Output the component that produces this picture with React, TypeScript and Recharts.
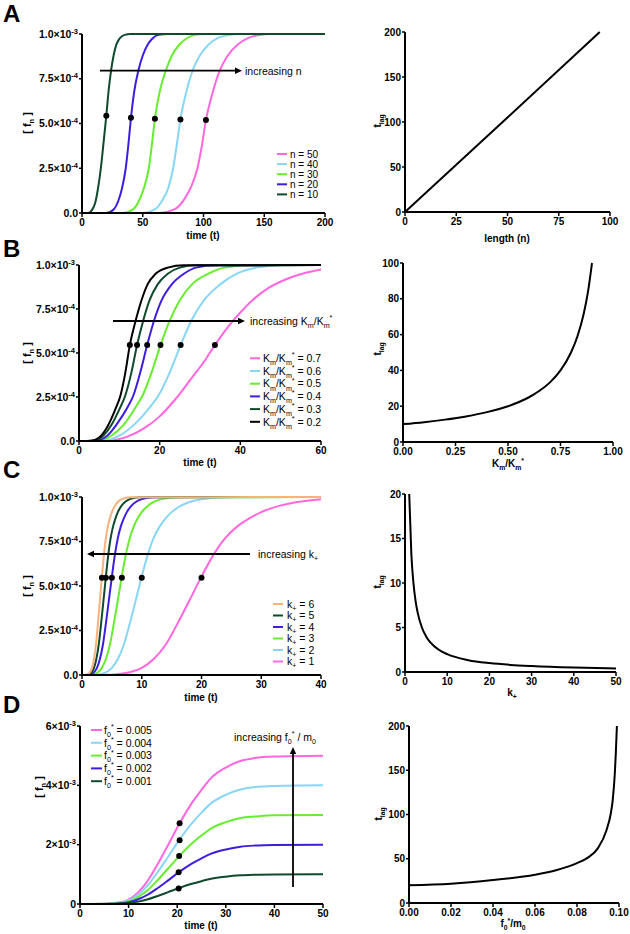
import React from "react";
import { ComposedChart, Line, Scatter, XAxis, YAxis } from "recharts";

const FONT = '"Liberation Sans", Arial, Helvetica, sans-serif';

const PINK = "#ff66e0";
const LBLUE = "#88d6f6";
const GREEN = "#66ee2e";
const BLUE = "#3b1ee0";
const DGREEN = "#0f4a2c";
const BLACK = "#000000";
const ORANGE = "#f8b27a";

// ---- Panel A : [f_n] (x1e-4) vs time, for several lengths n ----
const aNames = ["n = 50", "n = 40", "n = 30", "n = 20", "n = 10"];
const aColors = [PINK, LBLUE, GREEN, BLUE, DGREEN];
const aN50 = [[0, 0], [64, 0], [76, 0.2], [84, 0.75], [90, 1.5], [95, 2.5], [98.5, 3.7], [102, 5.19], [107, 6.6], [113, 7.9], [120, 8.8], [128, 9.4], [137, 9.78], [146, 9.95], [155, 10], [200, 10]];
const aN40 = [[0, 0], [50, 0], [60, 0.2], [66, 0.7], [71, 1.4], [75, 2.5], [78, 3.8], [81, 5.22], [86, 6.8], [91, 7.96], [97, 8.8], [104, 9.4], [112, 9.78], [121, 9.95], [130, 10], [200, 10]];
const aN30 = [[0, 0], [34, 0], [42, 0.2], [47, 0.7], [51, 1.4], [55, 2.5], [57.5, 3.8], [60, 5.27], [64, 6.8], [69, 7.96], [74, 8.8], [80, 9.4], [86, 9.75], [93, 9.95], [100, 10], [200, 10]];
const aN20 = [[0, 0], [20, 0], [26, 0.2], [30, 0.7], [33, 1.4], [36, 2.5], [38.3, 3.9], [40.3, 5.32], [43, 6.8], [46.4, 7.96], [50, 8.8], [54, 9.4], [58, 9.75], [63, 9.95], [70, 10], [200, 10]];
const aN10 = [[0, 0], [5, 0], [8, 0.15], [11, 0.6], [13, 1.3], [15.5, 2.5], [18, 4.1], [20, 5.43], [22, 6.9], [24, 8.0], [26, 8.8], [28, 9.35], [31, 9.75], [35, 9.95], [40, 10], [200, 10]];
const aDotT = [20, 40.3, 60, 81, 102];
const aDotV = [5.43, 5.32, 5.27, 5.22, 5.19];
const aLagN = [0, 50, 95];
const aLagT = [0, 105, 200];

// ---- Panel B : varying Km/Km* ----
const bValues = ["0.7", "0.6", "0.5", "0.4", "0.3", "0.2"];
const bColors = [PINK, LBLUE, GREEN, BLUE, DGREEN, BLACK];
const bK07 = [[0, 0], [7, 0.02], [12, 0.25], [16, 0.7], [20, 1.4], [24, 2.4], [28, 3.6], [31, 4.5], [33.7, 5.45], [37, 6.5], [40, 7.3], [43, 8.0], [47, 8.7], [52, 9.25], [56, 9.55], [60, 9.75]];
const bK06 = [[0, 0], [6, 0.02], [10, 0.3], [14, 1.0], [17.5, 1.9], [20, 2.7], [22.5, 3.9], [25.2, 5.45], [28, 6.9], [31, 8.0], [35, 8.9], [39, 9.5], [44, 9.85], [50, 9.98], [60, 10]];
const bK05 = [[0, 0], [5, 0.02], [8, 0.3], [11, 0.9], [14, 1.9], [16, 2.7], [18, 3.9], [20.2, 5.45], [22.6, 6.9], [25, 8.0], [28, 8.9], [32, 9.5], [36, 9.85], [42, 9.98], [60, 10]];
const bK04 = [[0, 0], [4, 0.02], [7, 0.3], [9.5, 1.0], [12, 1.9], [13.5, 2.6], [15.2, 3.9], [16.9, 5.45], [18.7, 6.9], [20.5, 8.0], [23, 8.9], [26, 9.5], [29, 9.85], [34, 9.98], [60, 10]];
const bK03 = [[0, 0], [3.5, 0.02], [6, 0.3], [8, 0.9], [10, 1.8], [11.5, 2.6], [13, 3.9], [14.4, 5.45], [16, 6.9], [17.5, 8.0], [19.5, 8.9], [22, 9.5], [25, 9.85], [29, 9.98], [60, 10]];
const bK02 = [[0, 0], [3, 0.02], [5, 0.2], [7, 0.8], [9, 1.8], [10.3, 2.6], [11.5, 3.9], [12.6, 5.45], [14, 6.8], [15.5, 8.0], [17, 8.9], [19, 9.5], [22, 9.85], [26, 9.98], [60, 10]];
const bDotT = [12.6, 14.4, 16.9, 20.2, 25.2, 33.7];
const bDotV = [5.45, 5.45, 5.45, 5.45, 5.45, 5.45];
const bRatio = [0, 0.1, 0.2, 0.3, 0.4, 0.5, 0.6, 0.65, 0.7, 0.75, 0.8, 0.83, 0.86, 0.88, 0.9];
const bLag = [10, 11.1, 12.5, 14.3, 16.7, 20, 25, 28.6, 33.3, 40, 50, 58.8, 71.4, 83.3, 100];

// ---- Panel C : varying k+ ----
const cValues = ["6", "5", "4", "3", "2", "1"];
const cColors = [ORANGE, DGREEN, BLUE, GREEN, LBLUE, PINK];
const cK6 = [[0, 0], [0.83, 0.02], [1.33, 0.15], [1.67, 0.4], [2, 0.9], [2.33, 1.7], [2.67, 2.9], [3, 4.2], [3.32, 5.47], [3.67, 6.75], [4, 7.7], [4.33, 8.35], [4.67, 8.8], [5, 9.15], [5.5, 9.5], [6, 9.72], [6.67, 9.88], [8, 9.98], [40, 10]];
const cK5 = [[0, 0], [1, 0.02], [1.6, 0.15], [2, 0.4], [2.4, 0.9], [2.8, 1.7], [3.2, 2.9], [3.6, 4.2], [3.98, 5.47], [4.4, 6.75], [4.8, 7.7], [5.2, 8.35], [5.6, 8.8], [6, 9.15], [6.6, 9.5], [7.2, 9.72], [8, 9.88], [9.6, 9.98], [40, 10]];
const cK4 = [[0, 0], [1.25, 0.02], [2, 0.15], [2.5, 0.4], [3, 0.9], [3.5, 1.7], [4, 2.9], [4.5, 4.2], [4.98, 5.47], [5.5, 6.75], [6, 7.7], [6.5, 8.35], [7, 8.8], [7.5, 9.15], [8.25, 9.5], [9, 9.72], [10, 9.88], [12, 9.98], [40, 10]];
const cK3 = [[0, 0], [1.67, 0.02], [2.67, 0.15], [3.33, 0.4], [4, 0.9], [4.67, 1.7], [5.33, 2.9], [6, 4.2], [6.63, 5.47], [7.33, 6.75], [8, 7.7], [8.67, 8.35], [9.33, 8.8], [10, 9.15], [11, 9.5], [12, 9.72], [13.3, 9.88], [16, 9.98], [40, 10]];
const cK2 = [[0, 0], [2.5, 0.02], [4, 0.15], [5, 0.4], [6, 0.9], [7, 1.7], [8, 2.9], [9, 4.2], [9.95, 5.47], [11, 6.75], [12, 7.7], [13, 8.35], [14, 8.8], [15, 9.15], [16.5, 9.5], [18, 9.72], [20, 9.88], [24, 9.98], [40, 10]];
const cK1 = [[0, 0], [5, 0.02], [8, 0.15], [10, 0.4], [12, 0.9], [14, 1.7], [16, 2.9], [18, 4.2], [19.9, 5.47], [22, 6.75], [24, 7.7], [26, 8.35], [28, 8.8], [30, 9.15], [33, 9.5], [36, 9.72], [40, 9.88]];
const cDotT = [3.33, 4, 5, 6.67, 10, 20];
const cDotV = [5.47, 5.47, 5.47, 5.47, 5.47, 5.47];
const cK = [1, 1.5, 2, 2.5, 3, 4, 5, 6, 8, 10, 15, 20, 25, 30, 40, 50];
const cLag = [20, 13.3, 10, 8, 6.67, 5, 4, 3.33, 2.5, 2, 1.33, 1, 0.8, 0.67, 0.5, 0.4];

// ---- Panel D : varying f0* (x1e-3) ----
const dValues = ["0.005", "0.004", "0.003", "0.002", "0.001"];
const dColors = [PINK, LBLUE, GREEN, BLUE, DGREEN];
const dTime = [0, 5, 8, 10, 12, 14, 16, 18, 20.5, 23, 25, 27, 30, 33, 36, 40, 50];
const dF005 = [0, 0.01, 0.05, 0.15, 0.4, 0.8, 1.35, 1.95, 2.72, 3.4, 3.85, 4.25, 4.6, 4.82, 4.92, 4.97, 5];
const dF004 = [0, 0.008, 0.04, 0.12, 0.32, 0.64, 1.08, 1.56, 2.18, 2.72, 3.08, 3.4, 3.68, 3.86, 3.94, 3.98, 4];
const dF003 = [0, 0.006, 0.03, 0.09, 0.24, 0.48, 0.81, 1.17, 1.63, 2.04, 2.31, 2.55, 2.76, 2.9, 2.95, 2.99, 3];
const dF002 = [0, 0.004, 0.02, 0.06, 0.16, 0.32, 0.54, 0.78, 1.09, 1.36, 1.54, 1.7, 1.84, 1.93, 1.97, 1.99, 2];
const dF001 = [0, 0.002, 0.01, 0.03, 0.08, 0.16, 0.27, 0.39, 0.545, 0.68, 0.77, 0.85, 0.92, 0.965, 0.985, 0.995, 1];
const dDotT = [20.5, 20.5, 20.4, 20.3, 20.3];
const dDotV = [2.72, 2.15, 1.62, 1.07, 0.52];
const dRatio = [0, 0.02, 0.04, 0.06, 0.07, 0.08, 0.085, 0.09, 0.094, 0.096, 0.097, 0.098, 0.0985, 0.099];
const dLag = [20, 21.8, 26, 32, 37, 45, 51, 62, 82, 100, 116, 146, 170, 200];

// tick labels of the concentration axes
const yTicksABC = [0, 2.5, 5, 7.5, 10];
const yMantABC = ["0.0", "2.5", "5.0", "7.5", "1.0"];
const yExpABC = ["", "-4", "-4", "-4", "-3"];
const yTicksD = [0, 2, 4, 6];
const yMantD = ["0", "2", "4", "6"];
const yExpD = ["", "-3", "-3", "-3"];

const pairs = (p: number[][]) => p.map(([x, y]) => ({ x, y }));
const zip = (xs: number[], ys: number[]) => xs.map((x, i) => ({ x, y: ys[i] }));

const AX = { stroke: "#000", strokeWidth: 2 };
const TL = { stroke: "#000", strokeWidth: 1.5 };
const TICK = { fill: "#000", fontSize: 10, fontWeight: 700, fontFamily: FONT };

function SciTick(props: any) {
  const { x, y, payload, ticks, mant, exp } = props;
  const i = ticks.indexOf(payload.value);
  return (
    <text x={x} y={y} dy={3.7} textAnchor="end" fontFamily={FONT} fontSize={10.5} fontWeight="bold" fill="#000">
      {mant[i]}
      {exp[i] ? "×10" : ""}
      {exp[i] ? <tspan dy={-4} fontSize={7.5}>{exp[i]}</tspan> : null}
    </text>
  );
}

type Series = { data: { x: number; y: number }[]; color: string };

const YW = 70;
const MT = 10;
const MR = 10;
const XH = 30;

function Plot(props: {
  x0: number; y0: number; x1: number; y1: number;
  xDomain: number[]; xTicks: number[]; xFmt?: (v: number) => string;
  yDomain: number[]; yTicks: number[]; sci?: { mant: string[]; exp: string[] };
  lines: Series[]; dots?: { x: number; y: number }[];
}) {
  const { x0, y0, x1, y1, xDomain, xTicks, xFmt, yDomain, yTicks, sci, lines, dots } = props;
  return (
    <div style={{ position: "absolute", left: x0 - YW, top: y0 - MT }}>
      <ComposedChart width={YW + (x1 - x0) + MR} height={MT + (y1 - y0) + XH} margin={{ top: MT, right: MR, bottom: 0, left: 0 }}>
        <XAxis type="number" dataKey="x" domain={xDomain} ticks={xTicks} interval={0} tickFormatter={xFmt}
          height={XH} axisLine={AX} tickLine={TL} tickSize={4} tickMargin={2} tick={TICK} />
        <YAxis type="number" dataKey="y" domain={yDomain} ticks={yTicks} interval={0} width={YW}
          axisLine={AX} tickLine={TL} tickSize={3} tickMargin={1}
          tick={sci ? (p: any) => <SciTick {...p} ticks={yTicks} mant={sci.mant} exp={sci.exp} /> : TICK} />
        {lines.map((s, i) => (
          <Line key={i} data={s.data} dataKey="y" type="monotone" stroke={s.color} strokeWidth={2}
            dot={false} activeDot={false} isAnimationActive={false} />
        ))}
        {dots ? (
          <Scatter data={dots} dataKey="y" fill="#000" isAnimationActive={false}
            shape={(p: any) => <circle cx={p.cx} cy={p.cy} r={3} fill="#000" />} />
        ) : null}
      </ComposedChart>
    </div>
  );
}

type Seg = [string, string?];

function Rich({ x, y, segs, size = 11, bold = false, anchor = "start", rotate = false }: {
  x: number; y: number; segs: Seg[]; size?: number; bold?: boolean; anchor?: string; rotate?: boolean;
}) {
  let cur = 0;
  const spans = segs.map(([t, k], i) => {
    const target = k === "sub" ? size * 0.3 : k === "sup" ? -size * 0.45 : 0;
    const dy = target - cur;
    cur = target;
    return (
      <tspan key={i} dy={dy} fontSize={k ? size * 0.68 : size}>{t}</tspan>
    );
  });
  return (
    <text x={x} y={y} textAnchor={anchor as any} fontFamily={FONT} fontWeight={bold ? "bold" : "normal"}
      fontSize={size} fill="#000" style={{ whiteSpace: "pre" }}
      transform={rotate ? `rotate(-90 ${x} ${y})` : undefined}>
      {spans}
    </text>
  );
}

function LegendBlock({ y, step, lx0, lx1, tx, colors, labels, size = 10.5 }: {
  y: number; step: number; lx0: number; lx1: number; tx: number; colors: string[]; labels: Seg[][]; size?: number;
}) {
  return (
    <g>
      {labels.map((segs, i) => (
        <g key={i}>
          <line x1={lx0} x2={lx1} y1={y + i * step} y2={y + i * step} stroke={colors[i]} strokeWidth={2} />
          <Rich x={tx} y={y + i * step + 3.7} segs={segs} size={size} />
        </g>
      ))}
    </g>
  );
}

const kmSegs: Seg[] = [["K"], ["m", "sub"], ["/K"], ["m", "sub"], ["*", "sup"]];
const fnSegs: Seg[] = [["[ f"], ["n", "sub"], [" ]"]];
const lagSegs: Seg[] = [["t"], ["lag", "sub"]];

export default function App() {
  return (
    <div style={{ position: "absolute", left: 0, top: 0, width: 630, height: 934, background: "#fff", overflow: "hidden" }}>
      {/* A */}
      <Plot x0={82} y0={34} x1={325} y1={213} xDomain={[0, 200]} xTicks={[0, 50, 100, 150, 200]}
        yDomain={[0, 10]} yTicks={yTicksABC} sci={{ mant: yMantABC, exp: yExpABC }}
        lines={[aN50, aN40, aN30, aN20, aN10].map((d, i) => ({ data: pairs(d), color: aColors[i] }))}
        dots={zip(aDotT, aDotV)} />
      <Plot x0={405} y0={32} x1={610} y1={212} xDomain={[0, 100]} xTicks={[0, 25, 50, 75, 100]}
        yDomain={[0, 200]} yTicks={[0, 50, 100, 150, 200]}
        lines={[{ data: zip(aLagN, aLagT), color: BLACK }]} />
      {/* B */}
      <Plot x0={79} y0={265} x1={321} y1={441} xDomain={[0, 60]} xTicks={[0, 20, 40, 60]}
        yDomain={[0, 10]} yTicks={yTicksABC} sci={{ mant: yMantABC, exp: yExpABC }}
        lines={[bK07, bK06, bK05, bK04, bK03, bK02].map((d, i) => ({ data: pairs(d), color: bColors[i] }))}
        dots={zip(bDotT, bDotV)} />
      <Plot x0={403} y0={263} x1={613} y1={442} xDomain={[0, 1]} xTicks={[0, 0.25, 0.5, 0.75, 1]}
        xFmt={(v) => v.toFixed(2)} yDomain={[0, 100]} yTicks={[0, 20, 40, 60, 80, 100]}
        lines={[{ data: zip(bRatio, bLag), color: BLACK }]} />
      {/* C */}
      <Plot x0={82} y0={497} x1={321} y1={675} xDomain={[0, 40]} xTicks={[0, 10, 20, 30, 40]}
        yDomain={[0, 10]} yTicks={yTicksABC} sci={{ mant: yMantABC, exp: yExpABC }}
        lines={[cK1, cK2, cK3, cK4, cK5, cK6].map((d, i) => ({ data: pairs(d), color: cColors[5 - i] }))}
        dots={zip(cDotT, cDotV)} />
      <Plot x0={405} y0={494} x1={616} y1={672} xDomain={[0, 50]} xTicks={[0, 10, 20, 30, 40, 50]}
        yDomain={[0, 20]} yTicks={[0, 5, 10, 15, 20]}
        lines={[{ data: zip(cK, cLag), color: BLACK }]} />
      {/* D */}
      <Plot x0={80} y0={726} x1={323} y1={904} xDomain={[0, 50]} xTicks={[0, 10, 20, 30, 40, 50]}
        yDomain={[0, 6]} yTicks={yTicksD} sci={{ mant: yMantD, exp: yExpD }}
        lines={[dF005, dF004, dF003, dF002, dF001].map((v, i) => ({ data: zip(dTime, v), color: dColors[i] }))}
        dots={zip(dDotT, dDotV)} />
      <Plot x0={409} y0={726} x1={619} y1={903} xDomain={[0, 0.1]} xTicks={[0, 0.02, 0.04, 0.06, 0.08, 0.1]}
        xFmt={(v) => v.toFixed(2)} yDomain={[0, 200]} yTicks={[0, 50, 100, 150, 200]}
        lines={[{ data: zip(dRatio, dLag), color: BLACK }]} />

      <svg width={630} height={934} style={{ position: "absolute", left: 0, top: 0, pointerEvents: "none" }}>
        {/* panel letters */}
        {["A", "B", "C", "D"].map((l, i) => (
          <text key={l} x={3} y={[22, 257, 478, 713][i]} fontFamily={FONT} fontWeight="bold" fontSize={24} fill="#000">{l}</text>
        ))}

        {/* axis titles */}
        <Rich x={31} y={123} segs={fnSegs} bold rotate anchor="middle" size={11} />
        <Rich x={31} y={353} segs={fnSegs} bold rotate anchor="middle" size={11} />
        <Rich x={31} y={586} segs={fnSegs} bold rotate anchor="middle" size={11} />
        <Rich x={43} y={787} segs={fnSegs} bold rotate anchor="middle" size={11} />
        <Rich x={381} y={121} segs={lagSegs} bold rotate anchor="middle" size={10} />
        <Rich x={381} y={349} segs={lagSegs} bold rotate anchor="middle" size={10} />
        <Rich x={381} y={582} segs={lagSegs} bold rotate anchor="middle" size={10} />
        <Rich x={382} y={814} segs={lagSegs} bold rotate anchor="middle" size={10} />

        <Rich x={203} y={239} segs={[["time (t)"]]} bold anchor="middle" size={10} />
        <Rich x={507} y={242} segs={[["length (n)"]]} bold anchor="middle" size={10} />
        <Rich x={200} y={466} segs={[["time (t)"]]} bold anchor="middle" size={10} />
        <Rich x={508} y={467} segs={kmSegs} bold anchor="middle" size={10} />
        <Rich x={201} y={701} segs={[["time (t)"]]} bold anchor="middle" size={10} />
        <Rich x={512} y={696} segs={[["k"], ["+", "sub"]]} bold anchor="middle" size={10} />
        <Rich x={201} y={929} segs={[["time (t)"]]} bold anchor="middle" size={10} />
        <Rich x={513} y={927} segs={[["f"], ["0", "sub"], ["*", "sup"], ["/m"], ["0", "sub"]]} bold anchor="middle" size={10} />

        {/* legends */}
        <LegendBlock y={154} step={10.1} lx0={277} lx1={287} tx={290} colors={aColors} size={10}
          labels={aNames.map((n) => [[n]] as Seg[])} />
        <LegendBlock y={358.3} step={12.7} lx0={250} lx1={260} tx={263} colors={bColors}
          labels={bValues.map((v) => [...kmSegs, [" = " + v]] as Seg[])} />
        <LegendBlock y={604} step={11.5} lx0={273} lx1={283} tx={287} colors={cColors}
          labels={cValues.map((v) => [["k"], ["+", "sub"], [" = " + v]] as Seg[])} />
        <LegendBlock y={730} step={12.8} lx0={91} lx1={102} tx={104} colors={dColors}
          labels={dValues.map((v) => [["f"], ["0", "sub"], ["*", "sup"], [" = " + v]] as Seg[])} />

        {/* arrows */}
        <g stroke="#000" strokeWidth={1.8}>
          <line x1={100} y1={70.7} x2={236} y2={70.7} />
          <line x1={113} y1={321} x2={239} y2={321} />
          <line x1={250} y1={554} x2={93} y2={554} />
          <line x1={293} y1={887} x2={293} y2={753} />
        </g>
        <g fill="#000">
          <polygon points="242,70.7 235,67.5 235,74" />
          <polygon points="245,321 238,317.8 238,324.2" />
          <polygon points="87,554 94,550.8 94,557.2" />
          <polygon points="293,747 289.8,754 296.2,754" />
        </g>
        <Rich x={245} y={74.5} segs={[["increasing n"]]} size={10.5} />
        <Rich x={250} y={325} segs={[["increasing "], ...kmSegs]} size={10.5} />
        <Rich x={258} y={558} segs={[["increasing k"], ["+", "sub"]]} size={10.5} />
        <Rich x={275} y={741} segs={[["increasing f"], ["0", "sub"], ["*", "sup"], [" / m"], ["0", "sub"]]} size={10.5} anchor="middle" />
      </svg>
    </div>
  );
}
